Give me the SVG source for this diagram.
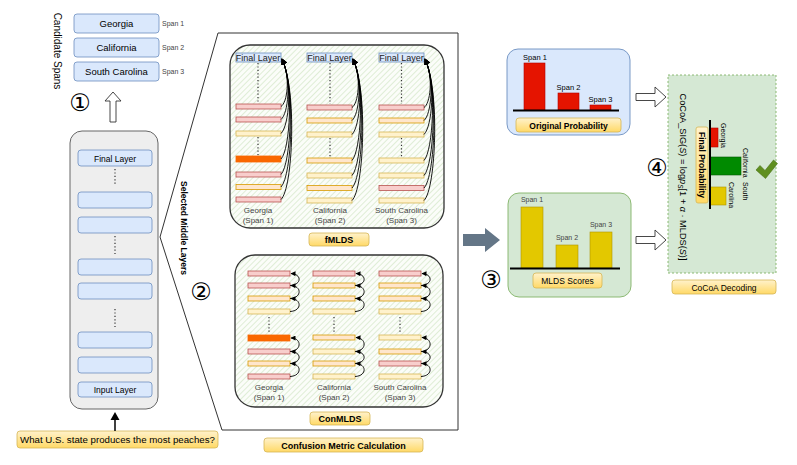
<svg xmlns="http://www.w3.org/2000/svg" width="797" height="465" viewBox="0 0 797 465">
<defs>
<style>
text{font-family:"Liberation Sans",Arial,sans-serif;fill:#000}
.lay{fill:#dae8fc;stroke:#6c8ebf;stroke-width:0.8}
.P{fill:#f8cecc;stroke:#b85450;stroke-width:0.8}
.Y{fill:#ffe6cc;stroke:#d79b00;stroke-width:0.8}
.L{fill:#fff2cc;stroke:#d6b656;stroke-width:0.8}
.O{fill:#fa6800;stroke:#fa6800;stroke-width:0.8}
.lbl{fill:url(#yg);stroke:#d6b656;stroke-width:0.8}
.dot{stroke:#333;stroke-width:1.2;stroke-dasharray:1.2,2.2;fill:none}
.cap{font-size:8px;fill:#444;text-anchor:middle}
.sp{font-size:7px;fill:#444}
.fa{fill:none;stroke:#000;stroke-width:0.9;marker-end:url(#ah)}
.ca{fill:none;stroke:#000;stroke-width:0.9;marker-end:url(#ah2)}
.hatch{fill:url(#hp);stroke:#333;stroke-width:1.3}
.num{font-family:"DejaVu Sans",sans-serif;font-size:24px;text-anchor:middle}
.fl{font-size:9px;text-anchor:middle;fill:#222}
</style>
<linearGradient id="yg" x1="0" y1="0" x2="0" y2="1"><stop offset="0" stop-color="#fff2cc"/><stop offset="1" stop-color="#ffd966"/></linearGradient>
<pattern id="hp" width="4" height="4" patternUnits="userSpaceOnUse" patternTransform="rotate(45)"><rect width="4" height="4" fill="#fbfdf9"/><line x1="0" y1="0" x2="0" y2="4" stroke="#b5d6a3" stroke-width="0.8"/></pattern>
<marker id="ah" viewBox="0 0 10 10" refX="9" refY="5" markerWidth="7" markerHeight="6" markerUnits="userSpaceOnUse" orient="auto"><path d="M0,0 L10,5 L0,10 z" fill="#000"/></marker>
<marker id="ah2" viewBox="0 0 10 10" refX="9" refY="5" markerWidth="6" markerHeight="5" markerUnits="userSpaceOnUse" orient="auto"><path d="M0,0 L10,5 L0,10 z" fill="#000"/></marker>
</defs>
<rect width="797" height="465" fill="#ffffff"/>

<!-- Candidate spans -->
<g id="candidate-spans">
<text transform="translate(53.5,51) rotate(90)" font-size="10" text-anchor="middle">Candidate Spans</text>
<rect class="lay" x="74" y="14" width="85" height="19" rx="3"/>
<text x="116.5" y="27" font-size="9.5" text-anchor="middle">Georgia</text>
<text class="sp" x="162" y="26">Span 1</text>
<rect class="lay" x="74" y="38" width="85" height="19" rx="3"/>
<text x="116.5" y="51" font-size="9.5" text-anchor="middle">California</text>
<text class="sp" x="162" y="50">Span 2</text>
<rect class="lay" x="74" y="62" width="85" height="19" rx="3"/>
<text x="116.5" y="75" font-size="9.5" text-anchor="middle">South Carolina</text>
<text class="sp" x="162" y="74">Span 3</text>
</g>

<g id="step1">
<text class="num" x="80" y="111">①</text>
<polygon points="113,92 121,101 116,101 116,122 110,122 110,101 105,101" fill="#fff" stroke="#333" stroke-width="0.9"/>
</g>

<!-- LLM layers -->
<g id="llm">
<rect x="70" y="131" width="88" height="278" rx="12" fill="#eeeeee" stroke="#666" stroke-width="1"/>
<rect class="lay" x="78" y="150" width="74" height="16" rx="3"/>
<text x="115" y="161.5" font-size="8.5" text-anchor="middle">Final Layer</text>
<line class="dot" x1="115" y1="169" x2="115" y2="186"/>
<rect class="lay" x="78" y="192" width="74" height="16" rx="3"/>
<rect class="lay" x="78" y="217" width="74" height="16" rx="3"/>
<line class="dot" x1="115" y1="236" x2="115" y2="254"/>
<rect class="lay" x="78" y="259" width="74" height="16" rx="3"/>
<rect class="lay" x="78" y="283" width="74" height="16" rx="3"/>
<line class="dot" x1="115" y1="309" x2="115" y2="327"/>
<rect class="lay" x="78" y="332" width="74" height="16" rx="3"/>
<rect class="lay" x="78" y="357" width="74" height="16" rx="3"/>
<rect class="lay" x="78" y="382" width="74" height="15" rx="3"/>
<text x="115" y="393" font-size="8.5" text-anchor="middle">Input Layer</text>
</g>

<g id="question">
<rect class="lbl" x="17" y="431" width="201" height="17" rx="3"/>
<text x="117.5" y="443" font-size="9.7" text-anchor="middle">What U.S. state produces the most peaches?</text>
</g>

<!-- callout container -->
<g id="confusion-metric">
<polygon points="218,33 458,33 458,430 222,430 160,237" fill="#ffffff" stroke="#333" stroke-width="1"/>
<text transform="translate(180.5,228) rotate(90)" font-size="8.5" font-weight="bold" text-anchor="middle">Selected Middle Layers</text>
<text class="num" x="201" y="300">②</text>
<rect class="lbl" x="264" y="438" width="159" height="14" rx="3"/>
<text x="343.5" y="448.5" font-size="9" font-weight="bold" text-anchor="middle">Confusion Metric Calculation</text>
</g>

<!-- fMLDS -->
<g id="fmlds">
<rect class="hatch" x="230" y="45" width="214" height="183" rx="20"/>
<rect class="lay" x="236" y="53" width="45" height="9"/>
<text class="fl" x="258" y="61">Final Layer</text>
<line class="dot" x1="258" y1="63" x2="258" y2="103"/>
<line class="dot" x1="258" y1="137" x2="258" y2="155"/>
<rect class="P" x="236" y="104" width="45" height="5"/>
<rect class="P" x="236" y="117" width="45" height="5"/>
<rect class="L" x="236" y="131" width="45" height="5"/>
<rect class="O" x="236" y="156" width="45" height="6"/>
<rect class="P" x="236" y="172" width="45" height="5"/>
<rect class="Y" x="236" y="184.5" width="45" height="5"/>
<rect class="P" x="236" y="197" width="45" height="5"/>
<text class="cap" x="258" y="213">Georgia</text>
<text class="cap" x="258" y="222.5">(Span 1)</text>
<rect class="lay" x="307" y="53" width="45" height="9"/>
<text class="fl" x="329.5" y="61">Final Layer</text>
<line class="dot" x1="330" y1="63" x2="330" y2="104"/>
<line class="dot" x1="330" y1="138" x2="330" y2="157"/>
<rect class="P" x="307" y="105" width="45" height="5"/>
<rect class="Y" x="307" y="118" width="45" height="5"/>
<rect class="L" x="307" y="132" width="45" height="5"/>
<rect class="Y" x="307" y="158" width="45" height="5"/>
<rect class="L" x="307" y="173" width="45" height="5"/>
<rect class="Y" x="307" y="185.5" width="45" height="5"/>
<rect class="L" x="307" y="198" width="45" height="5"/>
<text class="cap" x="330" y="213">California</text>
<text class="cap" x="330" y="222.5">(Span 2)</text>
<rect class="lay" x="379" y="53" width="45" height="9"/>
<text class="fl" x="401.5" y="61">Final Layer</text>
<line class="dot" x1="401.5" y1="63" x2="401.5" y2="104"/>
<line class="dot" x1="401.5" y1="138" x2="401.5" y2="157"/>
<rect class="P" x="379" y="105" width="45" height="5"/>
<rect class="Y" x="379" y="118" width="45" height="5"/>
<rect class="L" x="379" y="132" width="45" height="5"/>
<rect class="L" x="379" y="158" width="45" height="5"/>
<rect class="L" x="379" y="173" width="45" height="5"/>
<rect class="P" x="379" y="185.5" width="45" height="5"/>
<rect class="L" x="379" y="198" width="45" height="5"/>
<text class="cap" x="401.5" y="213">South Carolina</text>
<text class="cap" x="401.5" y="222.5">(Span 3)</text>
<rect class="lbl" x="309" y="233" width="60" height="13" rx="3"/>
<text x="339" y="243" font-size="9" font-weight="bold" text-anchor="middle">fMLDS</text>
</g>

<!-- ConMLDS -->
<g id="conmlds">
<rect class="hatch" x="235" y="255" width="208" height="152" rx="20"/>
<rect class="P" x="248" y="271" width="42" height="5"/>
<rect class="P" x="248" y="283" width="42" height="5"/>
<rect class="Y" x="248" y="296" width="42" height="5"/>
<rect class="L" x="248" y="309" width="42" height="5"/>
<rect class="O" x="248" y="335" width="42" height="6"/>
<rect class="P" x="248" y="349" width="42" height="5"/>
<rect class="Y" x="248" y="361" width="42" height="5"/>
<rect class="P" x="248" y="374" width="42" height="5"/>
<line class="dot" x1="269" y1="317" x2="269" y2="333"/>
<text class="cap" x="269" y="390">Georgia</text>
<text class="cap" x="269" y="399.5">(Span 1)</text>
<rect class="P" x="313" y="271" width="42" height="5"/>
<rect class="Y" x="313" y="283" width="42" height="5"/>
<rect class="Y" x="313" y="296" width="42" height="5"/>
<rect class="L" x="313" y="309" width="42" height="5"/>
<rect class="Y" x="313" y="335" width="42" height="5"/>
<rect class="L" x="313" y="349" width="42" height="5"/>
<rect class="Y" x="313" y="361" width="42" height="5"/>
<rect class="L" x="313" y="374" width="42" height="5"/>
<line class="dot" x1="334" y1="317" x2="334" y2="333"/>
<text class="cap" x="334" y="390">California</text>
<text class="cap" x="334" y="399.5">(Span 2)</text>
<rect class="P" x="379" y="271" width="42" height="5"/>
<rect class="Y" x="379" y="283" width="42" height="5"/>
<rect class="Y" x="379" y="296" width="42" height="5"/>
<rect class="L" x="379" y="309" width="42" height="5"/>
<rect class="L" x="379" y="335" width="42" height="5"/>
<rect class="Y" x="379" y="349" width="42" height="5"/>
<rect class="P" x="379" y="361" width="42" height="5"/>
<rect class="L" x="379" y="374" width="42" height="5"/>
<line class="dot" x1="400" y1="317" x2="400" y2="333"/>
<text class="cap" x="400" y="390">South Carolina</text>
<text class="cap" x="400" y="399.5">(Span 3)</text>
<rect class="lbl" x="310" y="412" width="60" height="13" rx="3"/>
<text x="340" y="422" font-size="9" font-weight="bold" text-anchor="middle">ConMLDS</text>
</g>

<!-- connectors -->
<g id="connectors">
<path class="fa" d="M281,106.5 C287,103 291,78 282,59"/>
<path class="fa" d="M281,119.5 C288,114 292,80 282,59"/>
<path class="fa" d="M281,133.5 C289,126 293,82 282,59"/>
<path class="fa" d="M281,159 C290,150 294,84 282,59"/>
<path class="fa" d="M281,174.5 C291,164 295,86 282,59"/>
<path class="fa" d="M281,187 C292,176 296,88 282,59"/>
<path class="fa" d="M281,199.5 C293,188 297,90 282,59"/>
<path class="fa" d="M352,107.5 C358,104 362,78 353,59"/>
<path class="fa" d="M352,120.5 C359,115 363,80 353,59"/>
<path class="fa" d="M352,134.5 C360,127 364,82 353,59"/>
<path class="fa" d="M352,160.5 C361,151 365,84 353,59"/>
<path class="fa" d="M352,175.5 C362,165 366,86 353,59"/>
<path class="fa" d="M352,188 C363,177 367,88 353,59"/>
<path class="fa" d="M352,200.5 C364,189 368,90 353,59"/>
<path class="fa" d="M424,107.5 C430,104 434,78 425,59"/>
<path class="fa" d="M424,120.5 C431,115 435,80 425,59"/>
<path class="fa" d="M424,134.5 C432,127 436,82 425,59"/>
<path class="fa" d="M424,160.5 C433,151 437,84 425,59"/>
<path class="fa" d="M424,175.5 C434,165 438,86 425,59"/>
<path class="fa" d="M424,188 C435,177 439,88 425,59"/>
<path class="fa" d="M424,200.5 C436,189 440,90 425,59"/>
<path class="ca" d="M290,285.5 C302,285 302,274 291,273.5"/>
<path class="ca" d="M290,298.5 C302,298 302,286 291,285.5"/>
<path class="ca" d="M290,311.5 C302,311 302,299 291,298.5"/>
<path class="ca" d="M290,351.5 C302,351 302,338 291,338"/>
<path class="ca" d="M290,363.5 C302,363 302,352 291,351.5"/>
<path class="ca" d="M290,376.5 C302,376 302,364 291,363.5"/>
<path class="ca" d="M355,285.5 C367,285 367,274 356,273.5"/>
<path class="ca" d="M355,298.5 C367,298 367,286 356,285.5"/>
<path class="ca" d="M355,311.5 C367,311 367,299 356,298.5"/>
<path class="ca" d="M355,351.5 C367,351 367,338 356,337.5"/>
<path class="ca" d="M355,363.5 C367,363 367,352 356,351.5"/>
<path class="ca" d="M355,376.5 C367,376 367,364 356,363.5"/>
<path class="ca" d="M421,285.5 C433,285 433,274 422,273.5"/>
<path class="ca" d="M421,298.5 C433,298 433,286 422,285.5"/>
<path class="ca" d="M421,311.5 C433,311 433,299 422,298.5"/>
<path class="ca" d="M421,351.5 C433,351 433,338 422,337.5"/>
<path class="ca" d="M421,363.5 C433,363 433,352 422,351.5"/>
<path class="ca" d="M421,376.5 C433,376 433,364 422,363.5"/>
<line x1="115" y1="431" x2="115" y2="418" stroke="#000" stroke-width="1.5"/>
<polygon points="115,412 119.5,420 110.5,420" fill="#000"/>
<polygon points="463,234 485,234 485,228 500,240 485,252 485,246 463,246" fill="#647687"/>
<polygon points="636,93.5 655,93.5 655,87 666,97 655,107 655,100.5 636,100.5" fill="#fff" stroke="#333" stroke-width="0.9"/>
<polygon points="636,236.5 655,236.5 655,230 666,240 655,250 655,243.5 636,243.5" fill="#fff" stroke="#333" stroke-width="0.9"/>
</g>

<!-- Original probability -->
<g id="original-probability">
<rect x="507" y="49" width="123" height="86" rx="11" fill="#dae8fc" stroke="#6c8ebf" stroke-width="0.9"/>
<rect x="524" y="63" width="21" height="47" fill="#e51400" stroke="#b20000" stroke-width="0.6"/>
<rect x="558" y="93" width="21" height="17" fill="#e51400" stroke="#b20000" stroke-width="0.6"/>
<rect x="590" y="105" width="21" height="5" fill="#e51400" stroke="#b20000" stroke-width="0.6"/>
<line x1="513" y1="110.5" x2="619" y2="110.5" stroke="#000" stroke-width="2"/>
<text x="535" y="60" font-size="7.5" fill="#444" text-anchor="middle">Span 1</text>
<text x="568.5" y="90" font-size="7.5" fill="#444" text-anchor="middle">Span 2</text>
<text x="600.5" y="102" font-size="7.5" fill="#444" text-anchor="middle">Span 3</text>
<rect class="lbl" x="516" y="118" width="105" height="14" rx="3"/>
<text x="568.5" y="128.5" font-size="8.5" font-weight="bold" text-anchor="middle">Original Probability</text>
</g>

<g id="step3">
<text class="num" x="491" y="288">③</text>
</g>

<!-- MLDS scores -->
<g id="mlds-scores">
<rect x="508" y="193" width="123" height="104" rx="11" fill="#d5e8d4" stroke="#82b366" stroke-width="0.9"/>
<rect x="521" y="207" width="22" height="61" fill="#e3c800" stroke="#b09500" stroke-width="0.6"/>
<rect x="556" y="245" width="22" height="23" fill="#e3c800" stroke="#b09500" stroke-width="0.6"/>
<rect x="590" y="232" width="22" height="36" fill="#e3c800" stroke="#b09500" stroke-width="0.6"/>
<line x1="510" y1="268.5" x2="620" y2="268.5" stroke="#000" stroke-width="2"/>
<text class="sp" x="532" y="202" text-anchor="middle">Span 1</text>
<text class="sp" x="567" y="240" text-anchor="middle">Span 2</text>
<text class="sp" x="601" y="227" text-anchor="middle">Span 3</text>
<rect class="lbl" x="533" y="273" width="69" height="15" rx="3"/>
<text x="567.5" y="284" font-size="8.5" text-anchor="middle">MLDS Scores</text>
</g>

<!-- CoCoA decoding -->
<g id="cocoa-decoding">
<rect x="668" y="75" width="108" height="198" fill="#d5e8d4" stroke="#82b366" stroke-width="0.9" stroke-dasharray="2,2"/>
<text transform="translate(680,177) rotate(90)" font-family="'Liberation Serif','DejaVu Serif',serif" font-size="9.2" text-anchor="middle">CoCoA_SIG(<tspan font-style="italic">S</tspan>) = log<tspan font-style="italic">p</tspan><tspan font-style="italic" font-size="6.5" dy="2">S</tspan><tspan dy="-2">[1 + </tspan><tspan font-style="italic">α</tspan> · MLDS(<tspan font-style="italic">S</tspan>)]</text>
<text class="num" x="657" y="176">④</text>
<rect x="710" y="128" width="8" height="19" fill="#e51400" stroke="#b20000" stroke-width="0.6"/>
<rect x="710" y="157" width="31" height="18" fill="#008a00" stroke="#005700" stroke-width="0.6"/>
<rect x="710" y="187" width="16" height="18" fill="#e3c800" stroke="#b09500" stroke-width="0.6"/>
<line x1="710" y1="120" x2="710" y2="209" stroke="#000" stroke-width="2"/>
<rect class="lbl" x="696" y="127" width="12" height="76" rx="2"/>
<text transform="translate(699,165) rotate(90)" font-size="8.5" font-weight="bold" text-anchor="middle">Final Probability</text>
<text transform="translate(721,123) rotate(90)" font-size="7" fill="#333">Georgia</text>
<text transform="translate(743,148) rotate(90)" font-size="7" fill="#333">California</text>
<text transform="translate(743,182) rotate(90)" font-size="7" fill="#333">South</text>
<text transform="translate(729,182) rotate(90)" font-size="7" fill="#333">Carolina</text>
<path d="M756,170 L760,165.5 L765,170.5 L773.5,160 L777.5,163.5 L765.5,178.5 Z" fill="#5f8f1f" stroke="#4a7015" stroke-width="0.6"/>
<rect class="lbl" x="672" y="280" width="104" height="14" rx="3"/>
<text x="724" y="290.5" font-size="8.5" text-anchor="middle">CoCoA Decoding</text>
</g>
</svg>
